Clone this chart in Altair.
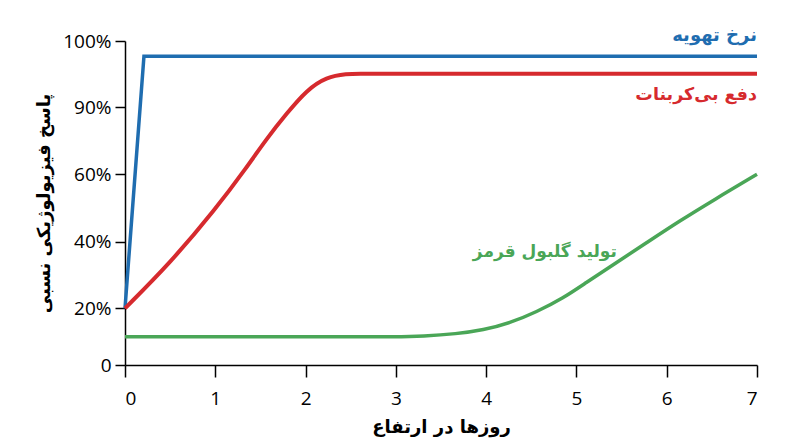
import altair as alt
import pandas as pd

# y values are in the chart's (non-uniform) axis units: tick positions below
y_tick_pos = [0, 17.5, 38, 58.8, 79.5, 100]
y_tick_labels = ["0", "20%", "40%", "60%", "90%", "100%"]
x_ticks = [0, 1, 2, 3, 4, 5, 6, 7]

days_vent = [0, 0.21, 7]
vent = [17.5, 95.3, 95.3]

days_bicarb = [0, 0.5, 1.0, 1.35, 1.57, 1.79, 2.01, 2.23, 2.46, 2.6, 2.8, 7]
bicarb = [17.5, 31.5, 48.0, 61.1, 69.9, 77.6, 84.8, 88.9, 89.9, 89.9, 89.9, 89.9]

days_rbc = [0, 2.5, 3.0, 3.3, 3.67, 3.97, 4.26, 4.56, 4.85, 5.1, 5.41, 5.78, 6.15, 6.52, 7]
rbc = [8.7, 8.7, 8.7, 8.9, 9.6, 10.8, 12.9, 16.4, 20.6, 25.3, 31.0, 37.8, 44.6, 50.9, 58.9]

series_names = ["نرخ تهویه", "دفع بی‌کربنات", "تولید گلبول قرمز"]
series_colors = ["#1f6db0", "#d62a2e", "#4aa657"]

label_x = [7, 7, 4.65]
label_y = [101.5, 83.3, 35.0]
label_align = ["right", "right", "center"]

x_title = "روزها در ارتفاع"
y_title = "پاسخ فیزیولوژیکی نسبی"

label_expr = " : ".join(
    [f"datum.value < {(y_tick_pos[i] + y_tick_pos[i + 1]) / 2} ? '{y_tick_labels[i]}'" for i in range(len(y_tick_pos) - 1)]
) + f" : '{y_tick_labels[-1]}'"

xs = alt.X("day:Q", scale=alt.Scale(domain=[0, 7], nice=False),
           axis=alt.Axis(values=x_ticks, title=x_title, format="d", tickSize=12,
                         labelPadding=12, titlePadding=10))
ys = alt.Y("val:Q", scale=alt.Scale(domain=[0, 100], nice=False),
           axis=alt.Axis(values=y_tick_pos, labelExpr=label_expr, title=y_title, tickSize=10,
                         labelPadding=4, titlePadding=9))

def line_layer(days, vals, color, width, interp):
    df = pd.DataFrame({"day": days, "val": vals})
    return alt.Chart(df).mark_line(color=color, strokeWidth=width, interpolate=interp,
                                   strokeCap="butt", strokeJoin="miter").encode(x=xs, y=ys)

layers = [
    line_layer(days_vent, vent, series_colors[0], 3.5, "linear"),
    line_layer(days_bicarb, bicarb, series_colors[1], 4, "basis"),
    line_layer(days_rbc, rbc, series_colors[2], 3.5, "basis"),
]

label_sizes = [18, 17.5, 17]
for i in range(3):
    df = pd.DataFrame({"day": [label_x[i]], "val": [label_y[i]], "t": [series_names[i]]})
    layers.append(
        alt.Chart(df).mark_text(color=series_colors[i], align=label_align[i], baseline="middle",
                                fontSize=label_sizes[i], fontWeight="bold", font="DejaVu Sans")
        .encode(x=alt.X("day:Q"), y=alt.Y("val:Q"), text="t:N")
    )

chart = alt.layer(*layers).properties(
    width=632, height=324,
    autosize=alt.AutoSizeParams(type="none"),
    padding={"left": 117, "top": 33, "right": 35, "bottom": 74},
).configure_view(stroke=None).configure_axis(
    grid=False, domainColor="black", tickColor="black", domainWidth=1.5, tickWidth=1.5,
    labelColor="black", labelFont="Open Sans", labelFontSize=19,
    titleColor="black", titleFont="DejaVu Sans", titleFontSize=18, titleFontWeight="bold",
)

chart.save("out.html", embed_options={"renderer": "svg", "actions": False})
